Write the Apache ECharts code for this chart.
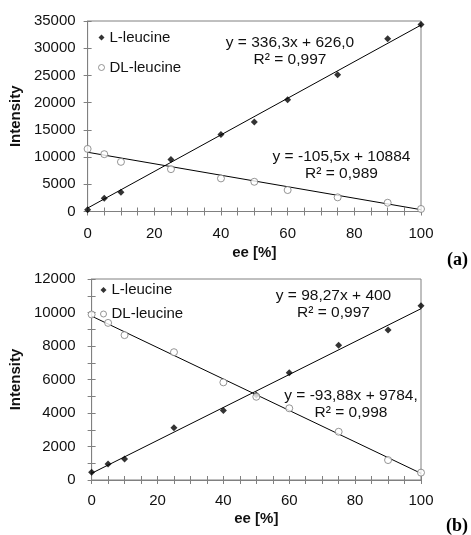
<!DOCTYPE html>
<html>
<head>
<meta charset="utf-8">
<script src="https://cdn.jsdelivr.net/npm/echarts@6/dist/echarts.min.js"></script>
<style>
  html, body { margin: 0; padding: 0; background: #fff; }
  #chart { width: 471px; height: 535px; }
</style>
</head>
<body>
<div id="chart"></div>
<script>
// ---------- data ----------
const eeValues = [0, 5, 10, 25, 40, 50, 60, 75, 90, 100];
// panel (a)
const lLeucineA  = [300, 2420, 3520, 9560, 14140, 16450, 20550, 25130, 31730, 34350];
const dlLeucineA = [11500, 10530, 9120, 7780, 6080, 5460, 3940, 2600, 1610, 460];
// panel (b)
const lLeucineB  = [460, 950, 1250, 3120, 4150, 5070, 6400, 8050, 8950, 10400];
const dlLeucineB = [9880, 9380, 8650, 7630, 5830, 4970, 4280, 2880, 1190, 440];
// linear fits shown in the chart [L, DL]
const fitSlopeA = [336.3, -105.5];
const fitInterceptA = [626.0, 10884];
const fitSlopeB = [98.27, -93.88];
const fitInterceptB = [400, 9784];
const eqTextA = ['y = 336,3x + 626,0\nR² = 0,997', 'y = -105,5x + 10884\nR² = 0,989'];
const eqTextB = ['y = 98,27x + 400\nR² = 0,997', 'y = -93,88x + 9784,\nR² = 0,998'];
const seriesNames = ['L-leucine', 'DL-leucine'];
const panelLabels = ['(a)', '(b)'];
const xAxisTitle = 'ee [%]';
const yAxisTitle = 'Intensity';

// ---------- styling ----------
const FONT = '"Liberation Sans", Arial, sans-serif';
const AX = '#808080';
const TXT = '#111';

function pairs(xs, ys) { return xs.map((x, i) => [x, ys[i]]); }
function fitLine(m, b) { return [[0, b], [100, m * 100 + b]]; }
const plain = v => String(v);

function xAxes(grid, margin, nameGap) {
  const base = {
    type: 'value', gridIndex: grid, min: 0, max: 100, interval: 20, position: 'bottom',
    splitLine: { show: false },
    axisLine: { onZero: false, lineStyle: { color: AX, width: 1 } },
  };
  return [
    Object.assign({}, base, {
      axisTick: { show: true, inside: false, length: 4, lineStyle: { color: AX } },
      minorTick: { show: true, splitNumber: 4, length: 4, lineStyle: { color: AX } },
      axisLabel: { margin: margin, fontFamily: FONT, fontSize: 15, color: TXT, formatter: plain },
      name: xAxisTitle, nameLocation: 'middle', nameGap: nameGap,
      nameTextStyle: { fontFamily: FONT, fontSize: 15, fontWeight: 'bold', color: TXT }
    }),
    Object.assign({}, base, {
      axisLine: { show: false, onZero: false },
      axisTick: { show: true, inside: true, length: 4, lineStyle: { color: AX } },
      minorTick: { show: true, splitNumber: 4, length: 4, lineStyle: { color: AX } },
      axisLabel: { show: false }
    })
  ];
}
function yAxes(grid, max, interval, minorSplit, margin, nameGap) {
  const base = {
    type: 'value', gridIndex: grid, min: 0, max: max, interval: interval, position: 'left',
    splitLine: { show: false },
    axisLine: { onZero: false, lineStyle: { color: AX, width: 1 } },
  };
  return [
    Object.assign({}, base, {
      axisTick: { show: true, inside: false, length: 4, lineStyle: { color: AX } },
      minorTick: { show: minorSplit > 1, splitNumber: minorSplit, length: 4, lineStyle: { color: AX } },
      axisLabel: { margin: margin, fontFamily: FONT, fontSize: 15, color: TXT, formatter: plain },
      name: yAxisTitle, nameLocation: 'middle', nameGap: nameGap, nameRotate: 90,
      nameTextStyle: { fontFamily: FONT, fontSize: 15, fontWeight: 'bold', color: TXT }
    }),
    Object.assign({}, base, {
      axisLine: { show: false, onZero: false },
      axisTick: { show: true, inside: true, length: 4, lineStyle: { color: AX } },
      minorTick: { show: minorSplit > 1, splitNumber: minorSplit, length: 4, lineStyle: { color: AX } },
      axisLabel: { show: false }
    })
  ];
}

function scatterL(xi, yi, data) {
  return { name: seriesNames[0], type: 'scatter', xAxisIndex: xi, yAxisIndex: yi, data: data,
    symbol: 'diamond', symbolSize: 7, itemStyle: { color: '#000' }, z: 5 };
}
function scatterDL(xi, yi, data) {
  return { name: seriesNames[1], type: 'scatter', xAxisIndex: xi, yAxisIndex: yi, data: data,
    symbol: 'circle', symbolSize: 7,
    itemStyle: { color: '#fff', borderColor: '#7a7a7a', borderWidth: 1 }, z: 5 };
}
function trend(xi, yi, data) {
  return { type: 'line', xAxisIndex: xi, yAxisIndex: yi, data: data, symbol: 'none',
    lineStyle: { color: '#000', width: 1 }, z: 3, silent: true };
}
function legend(left, top, gap) {
  return {
    data: [
      { name: seriesNames[0], icon: 'diamond', itemStyle: { color: '#000', borderWidth: 0 } },
      { name: seriesNames[1], icon: 'circle', itemStyle: { color: '#fff', borderColor: '#7a7a7a', borderWidth: 1 } }
    ],
    orient: 'vertical', left: left, top: top, itemGap: gap, itemWidth: 6, itemHeight: 6, padding: 0,
    selectedMode: false,
    textStyle: { fontFamily: FONT, fontSize: 15, color: TXT, lineHeight: 15 } };
}
function eqText(x, y, text) {
  return { type: 'text', x: x, y: y, style: { text: text, font: '15.5px ' + FONT, fill: TXT,
    align: 'center', verticalAlign: 'middle', lineHeight: 17 } };
}

const option = {
  animation: false,
  backgroundColor: '#fff',
  grid: [
    { left: 84.5, top: 21, right: 50, bottom: 323.5, show: true, borderColor: AX, borderWidth: 1 },
    { left: 79.5, top: 279, right: 50, bottom: 55, show: true, borderColor: AX, borderWidth: 1 }
  ],
  xAxis: [].concat(xAxes(0, 15, 34), xAxes(1, 13, 31)),
  yAxis: [].concat(yAxes(0, 35000, 5000, 1, 12, 57), yAxes(1, 12000, 2000, 2, 16, 53)),
  legend: [legend(98, 30, 15), legend(100, 282.5, 9)],
  series: [
    trend(0, 0, fitLine(fitSlopeA[0], fitInterceptA[0])),
    trend(0, 0, fitLine(fitSlopeA[1], fitInterceptA[1])),
    scatterL(0, 0, pairs(eeValues, lLeucineA)),
    scatterDL(0, 0, pairs(eeValues, dlLeucineA)),
    trend(2, 2, fitLine(fitSlopeB[0], fitInterceptB[0])),
    trend(2, 2, fitLine(fitSlopeB[1], fitInterceptB[1])),
    scatterL(2, 2, pairs(eeValues, lLeucineB)),
    scatterDL(2, 2, pairs(eeValues, dlLeucineB))
  ],
  graphic: [
    eqText(290, 51.7, eqTextA[0]),
    eqText(341.5, 165.3, eqTextA[1]),
    eqText(333.5, 304.7, eqTextB[0]),
    eqText(351, 404.7, eqTextB[1]),
    { type: 'text', x: 468, y: 260, style: { text: panelLabels[0], font: 'bold 18px "Liberation Serif", "DejaVu Serif", serif',
      fill: '#000', align: 'right', verticalAlign: 'middle' } },
    { type: 'text', x: 468, y: 526, style: { text: panelLabels[1], font: 'bold 18px "Liberation Serif", "DejaVu Serif", serif',
      fill: '#000', align: 'right', verticalAlign: 'middle' } }
  ]
};

const chart = echarts.init(document.getElementById('chart'), null, { renderer: 'canvas' });
chart.setOption(option);
</script>
</body>
</html>
